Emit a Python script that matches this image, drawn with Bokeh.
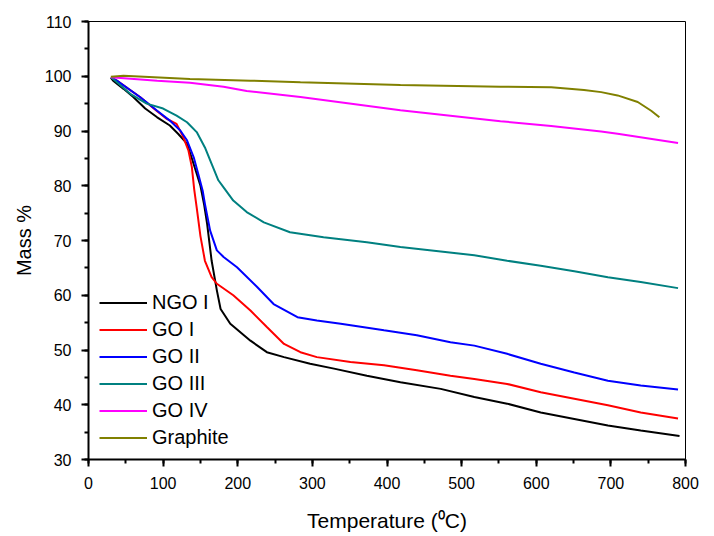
from bokeh.plotting import figure
from bokeh.models import Range1d, SingleIntervalTicker, Legend, LegendItem
from bokeh.embed import file_html
from bokeh.resources import INLINE

# ---- data ----
ngo1_t = [30, 33, 47, 60, 76, 92, 109, 120, 132, 138, 145, 150, 155, 159, 165, 172, 177, 190, 217, 239, 262, 297, 329, 373, 418, 472, 517, 561, 606, 651, 696, 740, 792]
ngo1_m = [99.7, 99.2, 97.7, 96.2, 94.1, 92.5, 91.0, 89.5, 87.7, 85.2, 82.2, 80.0, 76.5, 73.0, 66.3, 60.9, 57.5, 54.8, 51.7, 49.6, 48.7, 47.5, 46.6, 45.3, 44.1, 42.9, 41.4, 40.2, 38.6, 37.4, 36.2, 35.3, 34.3]

go1_t = [30, 38, 69, 92, 105, 118, 127, 134, 138.5, 141.6, 145, 150, 156, 165, 172, 194, 217, 239, 262, 284, 306, 351, 396, 440, 485, 517, 561, 606, 651, 696, 740, 790]
go1_m = [99.8, 99.2, 96.2, 93.6, 92.2, 91.3, 88.9, 86.4, 83.4, 79.4, 76.0, 70.8, 66.3, 63.3, 62.1, 60.0, 57.2, 54.2, 51.1, 49.6, 48.7, 47.8, 47.2, 46.3, 45.3, 44.7, 43.8, 42.3, 41.1, 39.9, 38.6, 37.5]

go2_t = [30, 38, 69, 92, 109, 123, 132, 141, 147, 153, 156, 163, 172, 181, 199, 226, 248, 280, 306, 338, 396, 440, 485, 517, 561, 606, 651, 696, 740, 790]
go2_m = [99.8, 99.2, 96.2, 93.7, 91.9, 90.1, 88.3, 85.2, 82.2, 79.1, 76.7, 71.8, 68.2, 67.0, 65.1, 61.5, 58.4, 56.0, 55.4, 54.8, 53.6, 52.7, 51.4, 50.8, 49.3, 47.5, 45.9, 44.4, 43.5, 42.8]

go3_t = [30, 33, 56, 78, 100, 118, 132, 145, 156, 165, 174, 181, 194, 212, 235, 270, 315, 373, 418, 472, 517, 561, 606, 651, 696, 740, 790]
go3_m = [99.8, 99.5, 96.8, 95.0, 94.1, 92.8, 91.6, 89.8, 87.0, 84.0, 81.0, 79.7, 77.3, 75.2, 73.3, 71.5, 70.6, 69.7, 68.8, 68.0, 67.3, 66.3, 65.4, 64.4, 63.3, 62.4, 61.3]

go4_t = [30, 92, 136, 181, 212, 284, 418, 552, 620, 687, 709, 790]
go4_m = [99.8, 99.2, 98.8, 98.1, 97.3, 96.2, 93.8, 91.8, 90.9, 89.9, 89.5, 87.8]

gra_t = [30, 47, 136, 217, 284, 418, 552, 620, 664, 687, 709, 736, 754, 765]
gra_m = [99.9, 100.1, 99.5, 99.2, 98.9, 98.4, 98.1, 98.0, 97.5, 97.1, 96.5, 95.3, 93.7, 92.5]

names = ["NGO I", "GO I", "GO II", "GO III", "GO IV", "Graphite"]
colors = ["#000000", "#FF0000", "#0000FF", "#008080", "#FF00FF", "#808000"]
series = [(ngo1_t, ngo1_m), (go1_t, go1_m), (go2_t, go2_m), (go3_t, go3_m), (go4_t, go4_m), (gra_t, gra_m)]

FONT = "Liberation Sans"

p = figure(width=714, height=536, output_backend="svg", toolbar_location=None,
           x_range=Range1d(0, 800), y_range=Range1d(30, 110),
           min_border_left=88, min_border_right=29, min_border_top=21, min_border_bottom=77)

p.grid.visible = False
p.outline_line_color = "black"
p.outline_line_width = 1
p.background_fill_color = "white"
p.border_fill_color = "white"

p.xaxis.ticker = SingleIntervalTicker(interval=100, num_minor_ticks=2)
p.yaxis.ticker = SingleIntervalTicker(interval=10, num_minor_ticks=2)

for ax in (p.xaxis, p.yaxis):
    ax.axis_line_width = 2
    ax.axis_line_color = "black"
    ax.major_tick_line_width = 2
    ax.minor_tick_line_width = 2
    ax.major_tick_out = 7
    ax.major_tick_in = 0
    ax.minor_tick_out = 4
    ax.minor_tick_in = 0
    ax.major_label_text_font = FONT
    ax.major_label_text_font_size = "16px"
    ax.major_label_text_color = "black"
    ax.axis_label_text_font = FONT
    ax.axis_label_text_font_style = "normal"
    ax.axis_label_text_color = "black"

p.xaxis.axis_label = "Temperature (\u2070C)"
p.xaxis.axis_label_text_font_size = "21px"
p.xaxis.major_label_standoff = 10
p.xaxis.axis_label_standoff = 17
p.yaxis.axis_label = "Mass %"
p.yaxis.axis_label_text_font_size = "20px"
p.yaxis.major_label_standoff = 10
p.yaxis.axis_label_standoff = 7

items = []
for name, col, (t, m) in zip(names, colors, series):
    r = p.line(t, m, line_color=col, line_width=2)
    items.append(LegendItem(label=name, renderers=[r]))

legend = Legend(items=items, location=(11, 8), margin=0, padding=0,
                border_line_color=None, background_fill_alpha=0,
                label_text_font=FONT, label_text_font_size="20px",
                label_text_color="black",
                glyph_width=48, glyph_height=27, label_height=27,
                label_standoff=5, spacing=0)
p.add_layout(legend)

open("out.html", "w").write(file_html(p, INLINE))
